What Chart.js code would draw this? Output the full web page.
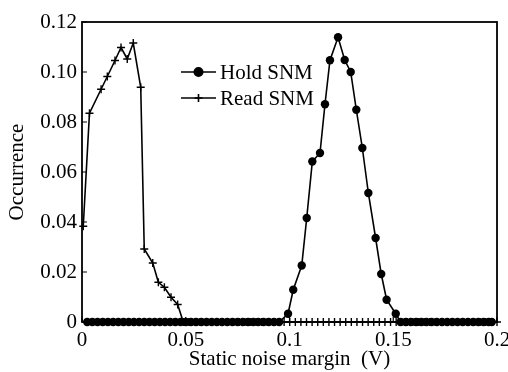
<!DOCTYPE html>
<html>
<head>
<meta charset="utf-8">
<script src="https://cdn.jsdelivr.net/npm/chart.js@4.4.1/dist/chart.umd.min.js"></script>
<style>
  html, body { margin: 0; padding: 0; background: #fff; }
  #wrap { width: 508px; height: 372px; }
</style>
</head>
<body>
<div id="wrap"><canvas id="snm-chart" width="508" height="372"></canvas></div>
<script>
// Hold SNM: zero runs on both sides, the peak in between
const holdZeroLeftX = [0.0025, 0.005, 0.0075, 0.01, 0.0125, 0.015, 0.0175, 0.02, 0.0225, 0.025,
  0.0275, 0.03, 0.0325, 0.035, 0.0375, 0.04, 0.0425, 0.045, 0.0475, 0.05, 0.0525, 0.055, 0.0575,
  0.06, 0.0625, 0.065, 0.0675, 0.07, 0.0725, 0.075, 0.0775, 0.08, 0.0825, 0.085, 0.0875, 0.09,
  0.0925, 0.095];
const holdPeakX = [0.0993, 0.1018, 0.1059, 0.1083, 0.1110, 0.1147, 0.1171, 0.1195, 0.1234, 0.1266,
  0.1295, 0.1322, 0.1351, 0.1380, 0.1415, 0.1442, 0.1468, 0.1512];
const holdPeakY = [0.0033, 0.0129, 0.0226, 0.0416, 0.0642, 0.0676, 0.0871, 0.1047, 0.1139, 0.1048,
  0.1000, 0.0849, 0.0696, 0.0516, 0.0336, 0.0192, 0.0089, 0.0033];
const holdZeroRightX = [0.1535, 0.156, 0.1585, 0.161, 0.1635, 0.166, 0.1685, 0.171, 0.1735, 0.176,
  0.1785, 0.181, 0.1835, 0.186, 0.1885, 0.191, 0.1935, 0.196, 0.1975];

// Read SNM: the peak near 0, then zeros to the end of the axis
const readPeakX = [0.0006, 0.0036, 0.0092, 0.0122, 0.0159, 0.0188, 0.0218, 0.0247, 0.0283, 0.0300,
  0.0341, 0.0368, 0.0397, 0.0429, 0.0461];
const readPeakY = [0.0383, 0.0835, 0.0931, 0.0982, 0.1046, 0.1098, 0.1052, 0.1116, 0.0939, 0.0292,
  0.0236, 0.0159, 0.0139, 0.0099, 0.0070];
const readZeroX = [0.0488, 0.0515, 0.0542, 0.0569, 0.0596, 0.0623, 0.0650, 0.0677, 0.0704, 0.0731,
  0.0758, 0.0785, 0.0812, 0.0839, 0.0866, 0.0893, 0.0920, 0.0947, 0.0974, 0.1001, 0.1028, 0.1055,
  0.1082, 0.1109, 0.1136, 0.1163, 0.1190, 0.1217, 0.1244, 0.1271, 0.1298, 0.1325, 0.1352, 0.1379,
  0.1406, 0.1433, 0.1460, 0.1487, 0.1514, 0.1541, 0.1568, 0.1595, 0.1622, 0.1649, 0.1676, 0.1703,
  0.1730, 0.1757, 0.1784, 0.1811, 0.1838, 0.1865, 0.1892, 0.1919, 0.1946, 0.1973, 0.2000];

const seriesLabels = ['Hold SNM', 'Read SNM'];
const xTicks = [0, 0.05, 0.1, 0.15, 0.2];
const yTicks = [0, 0.02, 0.04, 0.06, 0.08, 0.10, 0.12];

const FONT = '"Liberation Serif", "Times New Roman", serif';
const FONT_SIZE = 21;

const zeros = (xs) => xs.map((x) => ({ x, y: 0 }));
const pairs = (xs, ys) => xs.map((x, i) => ({ x, y: ys[i] }));

const holdData = [...zeros(holdZeroLeftX), ...pairs(holdPeakX, holdPeakY), ...zeros(holdZeroRightX)];
const readData = [...pairs(readPeakX, readPeakY), ...zeros(readZeroX)];

// plot box and short inward ticks
const framePlugin = {
  id: 'frame',
  beforeDatasetsDraw(chart) {
    const { ctx, chartArea: a, scales } = chart;
    ctx.save();
    ctx.strokeStyle = '#000';
    ctx.lineWidth = 1.8;
    ctx.strokeRect(a.left, a.top, a.right - a.left, a.bottom - a.top);
    ctx.lineWidth = 1.2;
    ctx.beginPath();
    yTicks.forEach((v) => {
      const y = scales.y.getPixelForValue(v);
      ctx.moveTo(a.left, y);
      ctx.lineTo(a.left + 5, y);
    });
    xTicks.forEach((v) => {
      const x = scales.x.getPixelForValue(v);
      ctx.moveTo(x, a.bottom);
      ctx.lineTo(x, a.bottom - 5);
    });
    ctx.stroke();
    ctx.restore();
  },
};

// legend sitting inside the plot, upper middle
const legendPlugin = {
  id: 'snmLegend',
  afterDraw(chart) {
    const { ctx } = chart;
    const rows = [
      { label: seriesLabels[0], style: 'circle', radius: 4.2, y: 72 },
      { label: seriesLabels[1], style: 'cross', radius: 4, y: 98 },
    ];
    ctx.save();
    rows.forEach((r) => {
      ctx.strokeStyle = '#000';
      ctx.lineWidth = 1.6;
      ctx.beginPath();
      ctx.moveTo(181, r.y);
      ctx.lineTo(216, r.y);
      ctx.stroke();
      ctx.fillStyle = '#000';
      Chart.helpers.drawPoint(ctx, { pointStyle: r.style, radius: r.radius, borderWidth: 1.4, rotation: 0 }, 198.5, r.y);
      ctx.font = FONT_SIZE + 'px ' + FONT;
      ctx.textBaseline = 'middle';
      ctx.textAlign = 'left';
      ctx.fillText(r.label, 220, r.y + 1);
    });
    ctx.restore();
  },
};

const ctx = document.getElementById('snm-chart');

new Chart(ctx, {
  type: 'scatter',
  data: {
    datasets: [
      {
        label: seriesLabels[0],
        data: holdData,
        showLine: true,
        borderColor: '#000',
        backgroundColor: '#000',
        borderWidth: 1.6,
        pointStyle: 'circle',
        pointRadius: 4.2,
        pointBorderWidth: 0,
        pointBackgroundColor: '#000',
        clip: false,
      },
      {
        label: seriesLabels[1],
        data: readData,
        showLine: true,
        borderColor: '#000',
        backgroundColor: '#000',
        borderWidth: 1.6,
        pointStyle: 'cross',
        pointRadius: 4,
        pointBorderWidth: 1.4,
        pointBorderColor: '#000',
        clip: false,
      },
    ],
  },
  options: {
    responsive: false,
    animation: false,
    events: [],
    layout: { padding: { top: 22, right: 11, left: 0, bottom: 0 } },
    plugins: { legend: { display: false }, tooltip: { enabled: false } },
    scales: {
      x: {
        type: 'linear',
        min: 0,
        max: 0.2,
        afterBuildTicks: (s) => { s.ticks = xTicks.map((value) => ({ value })); },
        afterFit: (s) => {
          s.height = 50;
          s.paddingLeft = 0;
          s.paddingRight = 0;
        },
        ticks: {
          color: '#000',
          font: { family: FONT, size: FONT_SIZE },
          padding: 6,
          maxRotation: 0,
          callback: (v) => String(parseFloat(Number(v).toFixed(3))),
        },
        grid: { display: false, drawTicks: false },
        border: { display: false },
        title: {
          display: true,
          text: 'Static noise margin  (V)',
          color: '#000',
          font: { family: FONT, size: FONT_SIZE },
          padding: { top: 0, bottom: 0 },
        },
      },
      y: {
        type: 'linear',
        min: 0,
        max: 0.12,
        afterBuildTicks: (s) => { s.ticks = yTicks.map((value) => ({ value })); },
        afterFit: (s) => {
          s.width = 82;
          s.paddingTop = 0;
          s.paddingBottom = 0;
        },
        ticks: {
          color: '#000',
          font: { family: FONT, size: FONT_SIZE },
          padding: 5,
          callback: (v) => (v === 0 ? '0' : Number(v).toFixed(2)),
        },
        grid: { display: false, drawTicks: false },
        border: { display: false },
        title: {
          display: true,
          text: 'Occurrence',
          color: '#000',
          font: { family: FONT, size: FONT_SIZE },
          padding: { top: 5, bottom: 0 },
        },
      },
    },
  },
  plugins: [framePlugin, legendPlugin],
});
</script>
</body>
</html>
